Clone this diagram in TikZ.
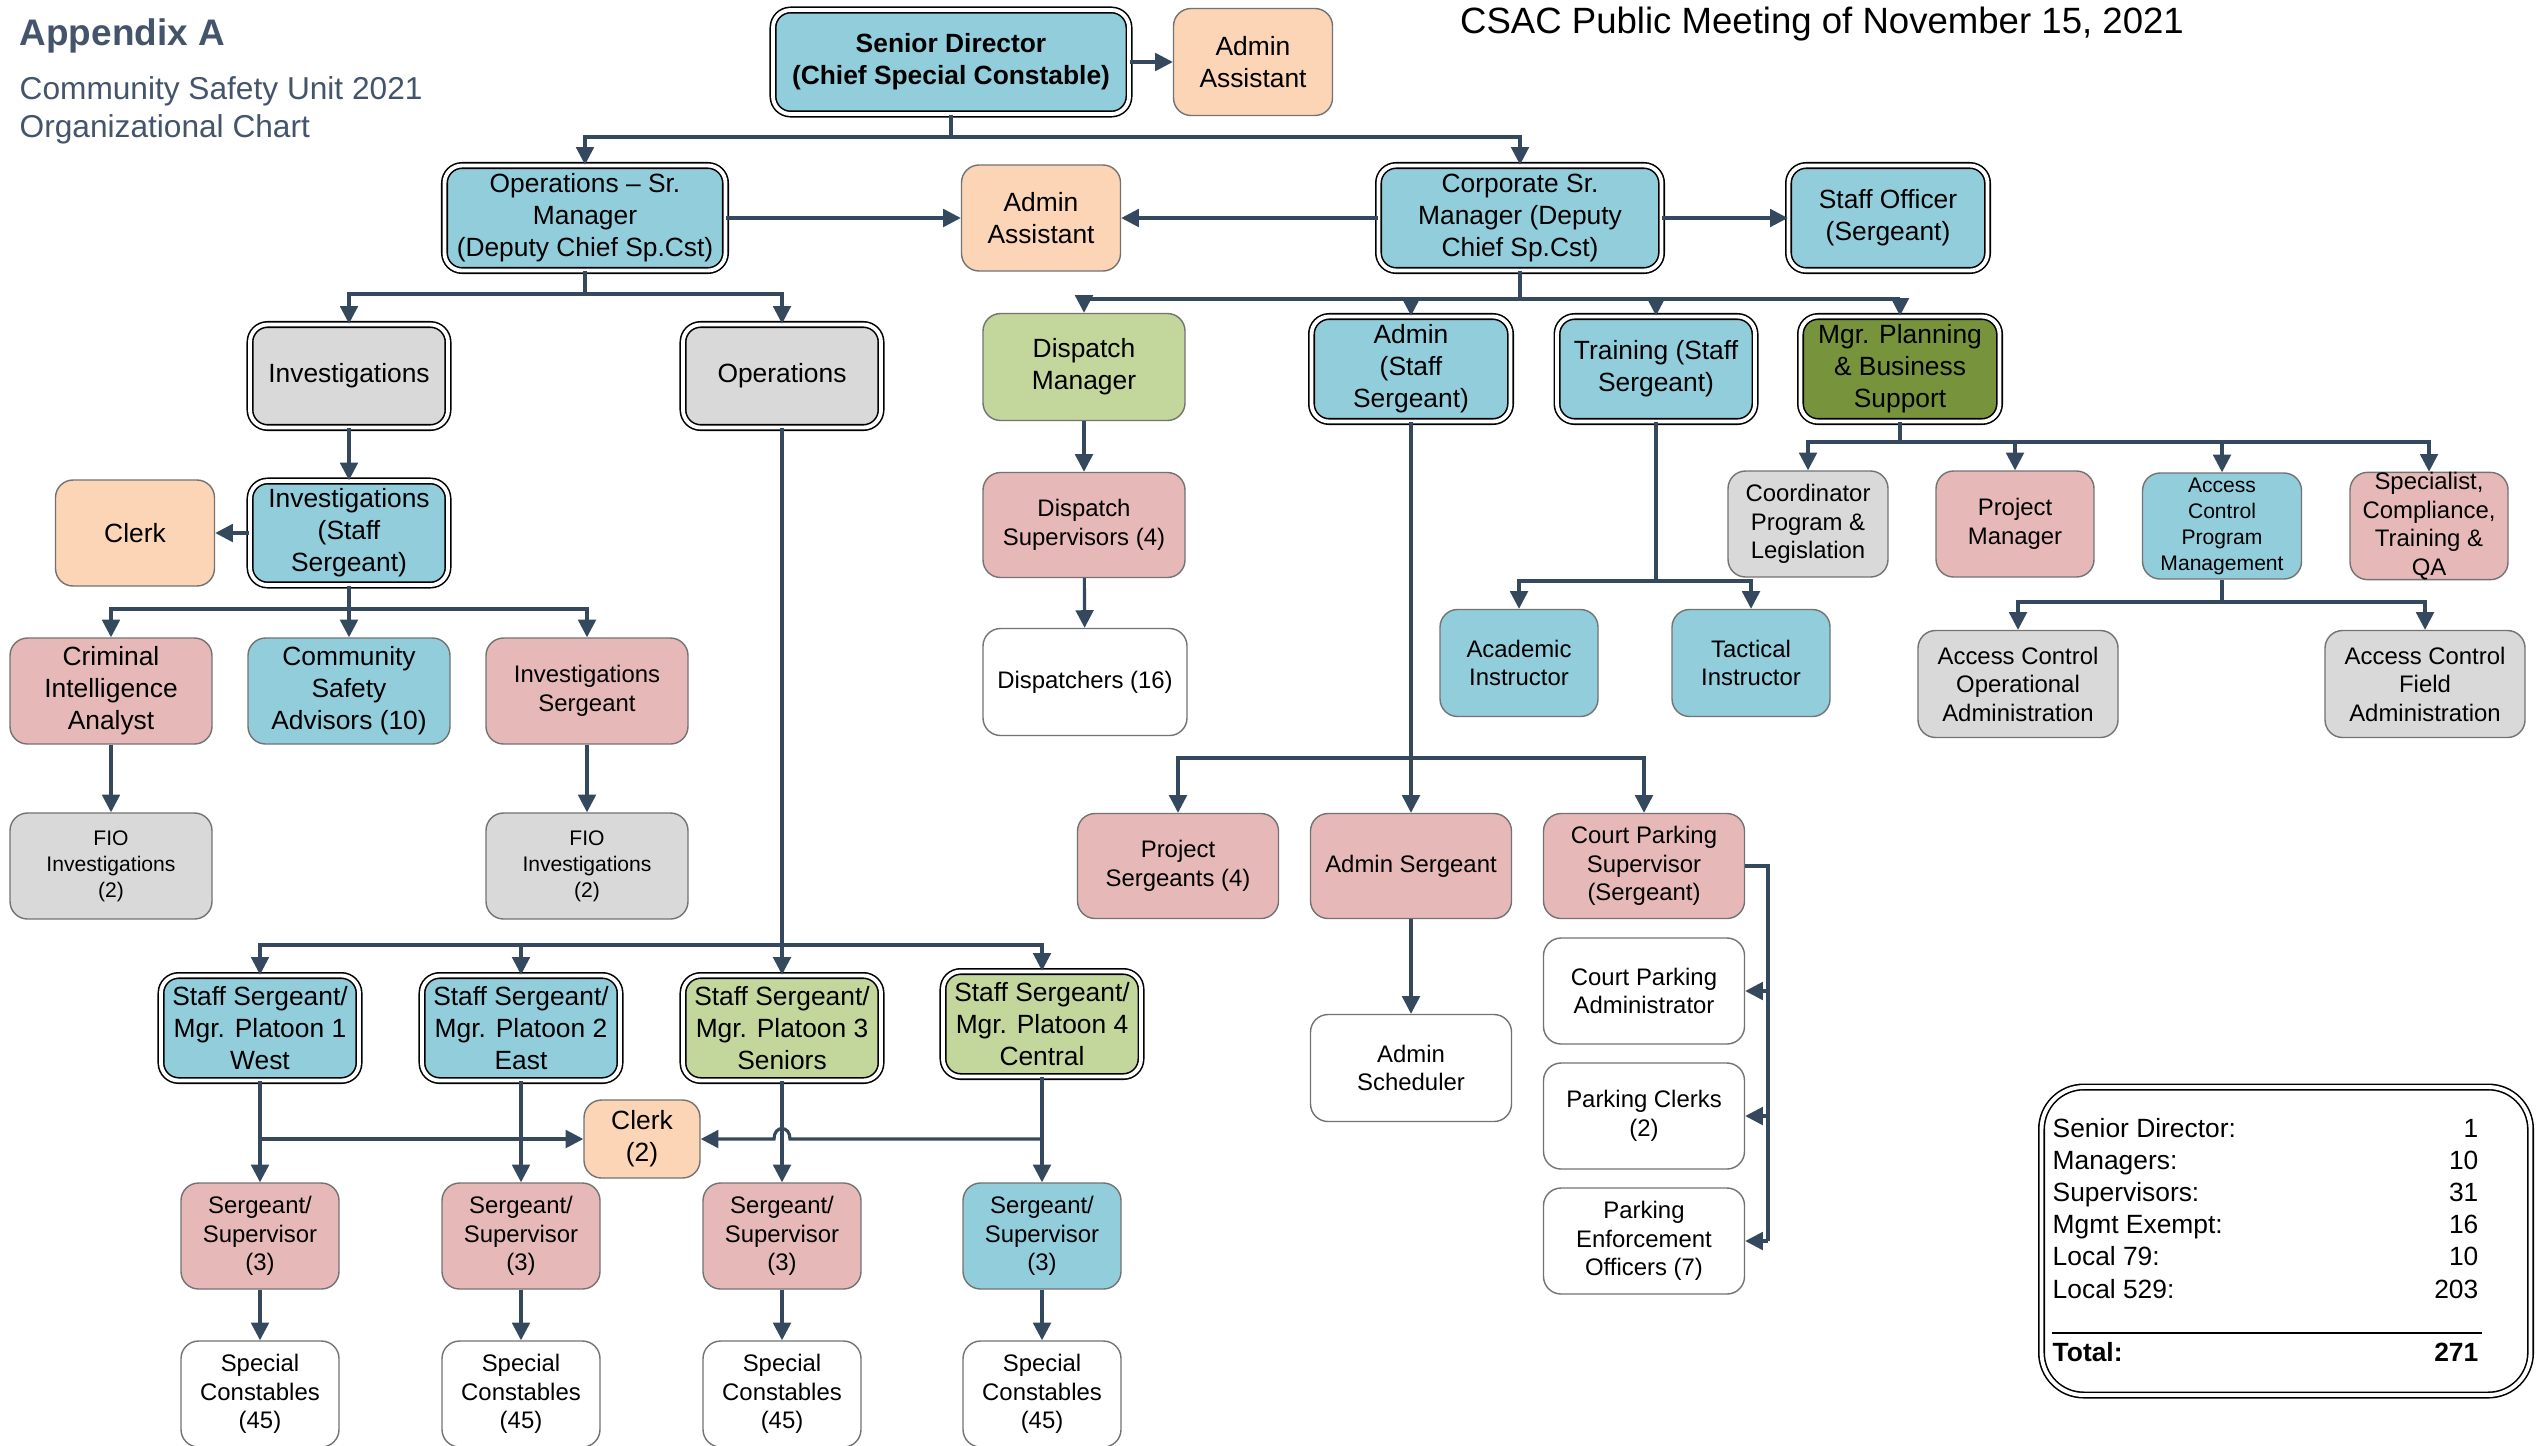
\documentclass[tikz,border=0pt]{standalone}
\usepackage{fontspec}
\setmainfont{Liberation Sans}
\usetikzlibrary{arrows.meta}

\definecolor{boxblue}{HTML}{92CDDC}
\definecolor{boxpeach}{HTML}{FBD5B5}
\definecolor{boxpink}{HTML}{E6B9B8}
\definecolor{boxgray}{HTML}{D9D9D9}
\definecolor{boxgreen}{HTML}{C3D69B}
\definecolor{boxolive}{HTML}{77933C}
\definecolor{linkcol}{HTML}{35495E}
\definecolor{titlecol}{HTML}{44546A}

\begin{document}
\begin{tikzpicture}[x=0.01cm, y=-0.01cm,
  >={Triangle[length=5pt,width=5pt]},
  box/.style={rounded corners=5pt, draw=black!55, line width=0.4pt, align=center,
    inner sep=0pt, font=\fontsize{6.8}{8.1}\selectfont},
  big/.style={font=\fontsize{7.5}{9.1}\selectfont},
  tiny/.style={font=\fontsize{6}{7.4}\selectfont},
  dbl/.style={draw=black, double=white, double distance=1.1pt, line width=0.45pt},
  wh/.style 2 args={minimum width=#1*0.01cm, minimum height=#2*0.01cm},
  link/.style={draw=linkcol, line width=0.9pt},
]
\useasboundingbox[fill=white] (0,0) rectangle (2540,1445);

\node[anchor=west, inner sep=0pt, text=titlecol, font=\fontsize{10.5}{12}\selectfont\bfseries] (appx) at (19,36) {Appendix A};
\node[anchor=west, inner sep=0pt, align=left, text=titlecol, font=\fontsize{9}{10.8}\selectfont] (unit) at (19,110) {Community Safety Unit 2021\\Organizational Chart};
\node[inner sep=0pt, font=\fontsize{10.4}{12}\selectfont] (meet) at (1822,24) {CSAC Public Meeting of November 15, 2021};

% top levels
\node[box, dbl, big, fill=boxblue, wh={356}{104}, font=\fontsize{7.5}{9.1}\selectfont\bfseries] (sd) at (951,62) {Senior Director\\(Chief Special Constable)};
\node[box, big, fill=boxpeach, wh={159}{107}] (aa1) at (1253,62) {Admin\\Assistant};
\node[box, dbl, big, fill=boxblue, wh={281}{105}] (osm) at (585,218) {Operations -- Sr.\\Manager\\(Deputy Chief Sp.Cst)};
\node[box, big, fill=boxpeach, wh={159}{106}] (aa2) at (1041,218) {Admin\\Assistant};
\node[box, dbl, big, fill=boxblue, wh={283}{105}] (csm) at (1520,218) {Corporate Sr.\\Manager (Deputy\\Chief Sp.Cst)};
\node[box, dbl, big, fill=boxblue, wh={199}{105}] (so) at (1888,218) {Staff Officer\\(Sergeant)};

% investigations
\node[box, dbl, big, fill=boxgray, wh={198}{103}] (inv) at (349,376) {Investigations};
\node[box, dbl, big, fill=boxgray, wh={198}{103}] (ops) at (782,376) {Operations};
\node[box, dbl, big, fill=boxblue, wh={198}{104}] (iss) at (349,533) {Investigations\\(Staff\\Sergeant)};
\node[box, big, fill=boxpeach, wh={159}{106}] (clk) at (135,533) {Clerk};
\node[box, big, fill=boxpink, wh={202}{106}] (cia) at (111,691) {Criminal\\Intelligence\\Analyst};
\node[box, big, fill=boxblue, wh={202}{106}] (csa) at (349,691) {Community\\Safety\\Advisors (10)};
\node[box, fill=boxpink, wh={202}{106}] (isg) at (587,691) {Investigations\\Sergeant};
\node[box, tiny, fill=boxgray, wh={202}{106}] (fio1) at (111,866) {FIO\\Investigations\\(2)};
\node[box, tiny, fill=boxgray, wh={202}{106}] (fio2) at (587,866) {FIO\\Investigations\\(2)};

% corporate
\node[box, big, fill=boxgreen, wh={202}{107}] (dm) at (1084,367) {Dispatch\\Manager};
\node[box, dbl, big, fill=boxblue, wh={199}{105}] (adm) at (1411,369) {Admin\\(Staff\\Sergeant)};
\node[box, dbl, big, fill=boxblue, wh={198}{105}] (trn) at (1656,369) {Training (Staff\\Sergeant)};
\node[box, dbl, big, fill=boxolive, wh={199}{105}] (mpb) at (1900,369) {Mgr. Planning\\\& Business\\Support};
\node[box, fill=boxpink, wh={202}{105}] (dsp) at (1084,525) {Dispatch\\Supervisors (4)};
\node[box, fill=white, wh={204}{107}] (dis) at (1085,682) {Dispatchers (16)};
\node[box, fill=boxblue, wh={158}{107}] (aca) at (1519,663) {Academic\\Instructor};
\node[box, fill=boxblue, wh={158}{107}] (tac) at (1751,663) {Tactical\\Instructor};
\node[box, fill=boxgray, wh={160}{106}] (coo) at (1808,524) {Coordinator\\Program \&\\Legislation};
\node[box, fill=boxpink, wh={158}{106}] (pm) at (2015,524) {Project\\Manager};
\node[box, tiny, fill=boxblue, wh={159}{106}] (acp) at (2222,526) {Access\\Control\\Program\\Management};
\node[box, fill=boxpink, wh={158}{106}] (spc) at (2429,526) {Specialist,\\Compliance,\\Training \&\\QA};
\node[box, fill=boxgray, wh={200}{107}] (aco) at (2018,684) {Access Control\\Operational\\Administration};
\node[box, fill=boxgray, wh={200}{107}] (acf) at (2425,684) {Access Control\\Field\\Administration};

% admin
\node[box, fill=boxpink, wh={201}{105}] (psg) at (1178,866) {Project\\Sergeants (4)};
\node[box, fill=boxpink, wh={201}{105}] (asg) at (1411,866) {Admin Sergeant};
\node[box, fill=boxpink, wh={201}{105}] (cps) at (1644,866) {Court Parking\\Supervisor\\(Sergeant)};
\node[box, fill=white, wh={201}{107}] (sch) at (1411,1068) {Admin\\Scheduler};
\node[box, fill=white, wh={201}{106}] (cpa) at (1644,991) {Court Parking\\Administrator};
\node[box, fill=white, wh={201}{106}] (pcl) at (1644,1116) {Parking Clerks\\(2)};
\node[box, fill=white, wh={201}{106}] (peo) at (1644,1241) {Parking\\Enforcement\\Officers (7)};

% platoons
\node[box, dbl, big, fill=boxblue, wh={198}{105}] (pl1) at (260,1028) {Staff Sergeant/\\Mgr. Platoon 1\\West};
\node[box, dbl, big, fill=boxblue, wh={198}{105}] (pl2) at (521,1028) {Staff Sergeant/\\Mgr. Platoon 2\\East};
\node[box, dbl, big, fill=boxgreen, wh={198}{105}] (pl3) at (782,1028) {Staff Sergeant/\\Mgr. Platoon 3\\Seniors};
\node[box, dbl, big, fill=boxgreen, wh={198}{105}] (pl4) at (1042,1024) {Staff Sergeant/\\Mgr. Platoon 4\\Central};
\node[box, big, fill=boxpeach, wh={116}{78}] (clk2) at (642,1139) {Clerk\\(2)};
\foreach \x/\c [count=\i] in {260/boxpink,521/boxpink,782/boxpink,1042/boxblue} {
  \node[box, fill=\c, wh={158}{106}] (ss\i) at (\x,1236) {Sergeant/\\Supervisor\\(3)};
  \node[box, fill=white, wh={158}{106}] (sc\i) at (\x,1394) {Special\\Constables\\(45)};
}

% connectors
\coordinate (b1) at (951,137);
\coordinate (b2) at (585,294);
\coordinate (b3) at (1520,299);
\coordinate (b4) at (349,609);
\coordinate (b5) at (782,945);
\coordinate (b6) at (1411,758);
\coordinate (b7) at (1768,1241);
\coordinate (b8) at (1656,581);
\coordinate (b9) at (1900,442);
\coordinate (b10) at (2222,602);
\coordinate (c1) at (260,1139);
\coordinate (c2) at (1042,1139);
\coordinate (hopR) at (790,1139);
\coordinate (hopL) at (774,1139);

\draw[link,->] (sd) -- (aa1);
\draw[link] (sd.south) -- (b1);
\draw[link,->] (b1) -| (osm.north);
\draw[link,->] (b1) -| (csm.north);
\draw[link,->] (osm) -- (aa2);
\draw[link,->] (csm) -- (aa2);
\draw[link,->] (csm) -- (so);

\draw[link] (osm.south) -- (b2);
\draw[link,->] (b2) -| (inv.north);
\draw[link,->] (b2) -| (ops.north);
\draw[link,->] (inv) -- (iss);
\draw[link,->] (iss) -- (clk);
\draw[link] (iss.south) -- (b4);
\foreach \n in {cia,csa,isg} \draw[link,->] (b4) -| (\n.north);
\draw[link,->] (cia) -- (fio1);
\draw[link,->] (isg) -- (fio2);

\draw[link] (ops.south) -- (b5);
\foreach \i in {1,...,4} {
  \draw[link,->] (b5) -| (pl\i.north);
  \draw[link,->] (pl\i) -- (ss\i);
  \draw[link,->] (ss\i) -- (sc\i);
}
\draw[link,->] (c1) -- (clk2.west);
\draw[link,->] (c2) -- (hopR) .. controls (790,1125) and (774,1125) .. (hopL) -- (clk2.east);

\draw[link] (csm.south) -- (b3);
\foreach \n in {dm,adm,trn,mpb} \draw[link,->] (b3) -| (\n.north);
\draw[link,->] (dm) -- (dsp);
\draw[link,->] (dsp) -- (dis);

\draw[link,->] (adm) -- (asg);
\draw[link,->] (b6) -| (psg.north);
\draw[link,->] (b6) -| (cps.north);
\draw[link,->] (asg) -- (sch);
\draw[link] (cps.east) -| (b7);
\foreach \n in {cpa,pcl,peo} \draw[link,->] (b7 |- \n) -- (\n.east);

\draw[link] (trn.south) -- (b8);
\draw[link,->] (b8) -| (aca.north);
\draw[link,->] (b8) -| (tac.north);
\draw[link] (mpb.south) -- (b9);
\foreach \n in {coo,pm,acp,spc} \draw[link,->] (b9) -| (\n.north);
\draw[link] (acp.south) -- (b10);
\draw[link,->] (b10) -| (aco.north);
\draw[link,->] (b10) -| (acf.north);

% totals
\node[dbl, rounded corners=12pt, wh={489}{308}] (summary) at (2286,1241) {};
\foreach \lbl/\num [count=\i] in {Senior Director:/1, Managers:/10, Supervisors:/31, Mgmt Exempt:/16, Local 79:/10, Local 529:/203} {
  \node[big, anchor=base west, inner sep=0pt] (lbl\i) at (2052,{1137+32.2*(\i-1)}) {\lbl};
  \node[big, anchor=base east, inner sep=0pt] (num\i) at (2479,{1137+32.2*(\i-1)}) {\num};
}
\draw[line width=0.4pt] (2052,1333) -- (2482,1333);
\node[big, anchor=base west, inner sep=0pt, font=\fontsize{7.5}{9.1}\selectfont\bfseries] (tot) at (2052,1361) {Total:};
\node[big, anchor=base east, inner sep=0pt, font=\fontsize{7.5}{9.1}\selectfont\bfseries] (totn) at (2479,1361) {271};

\end{tikzpicture}
\end{document}
